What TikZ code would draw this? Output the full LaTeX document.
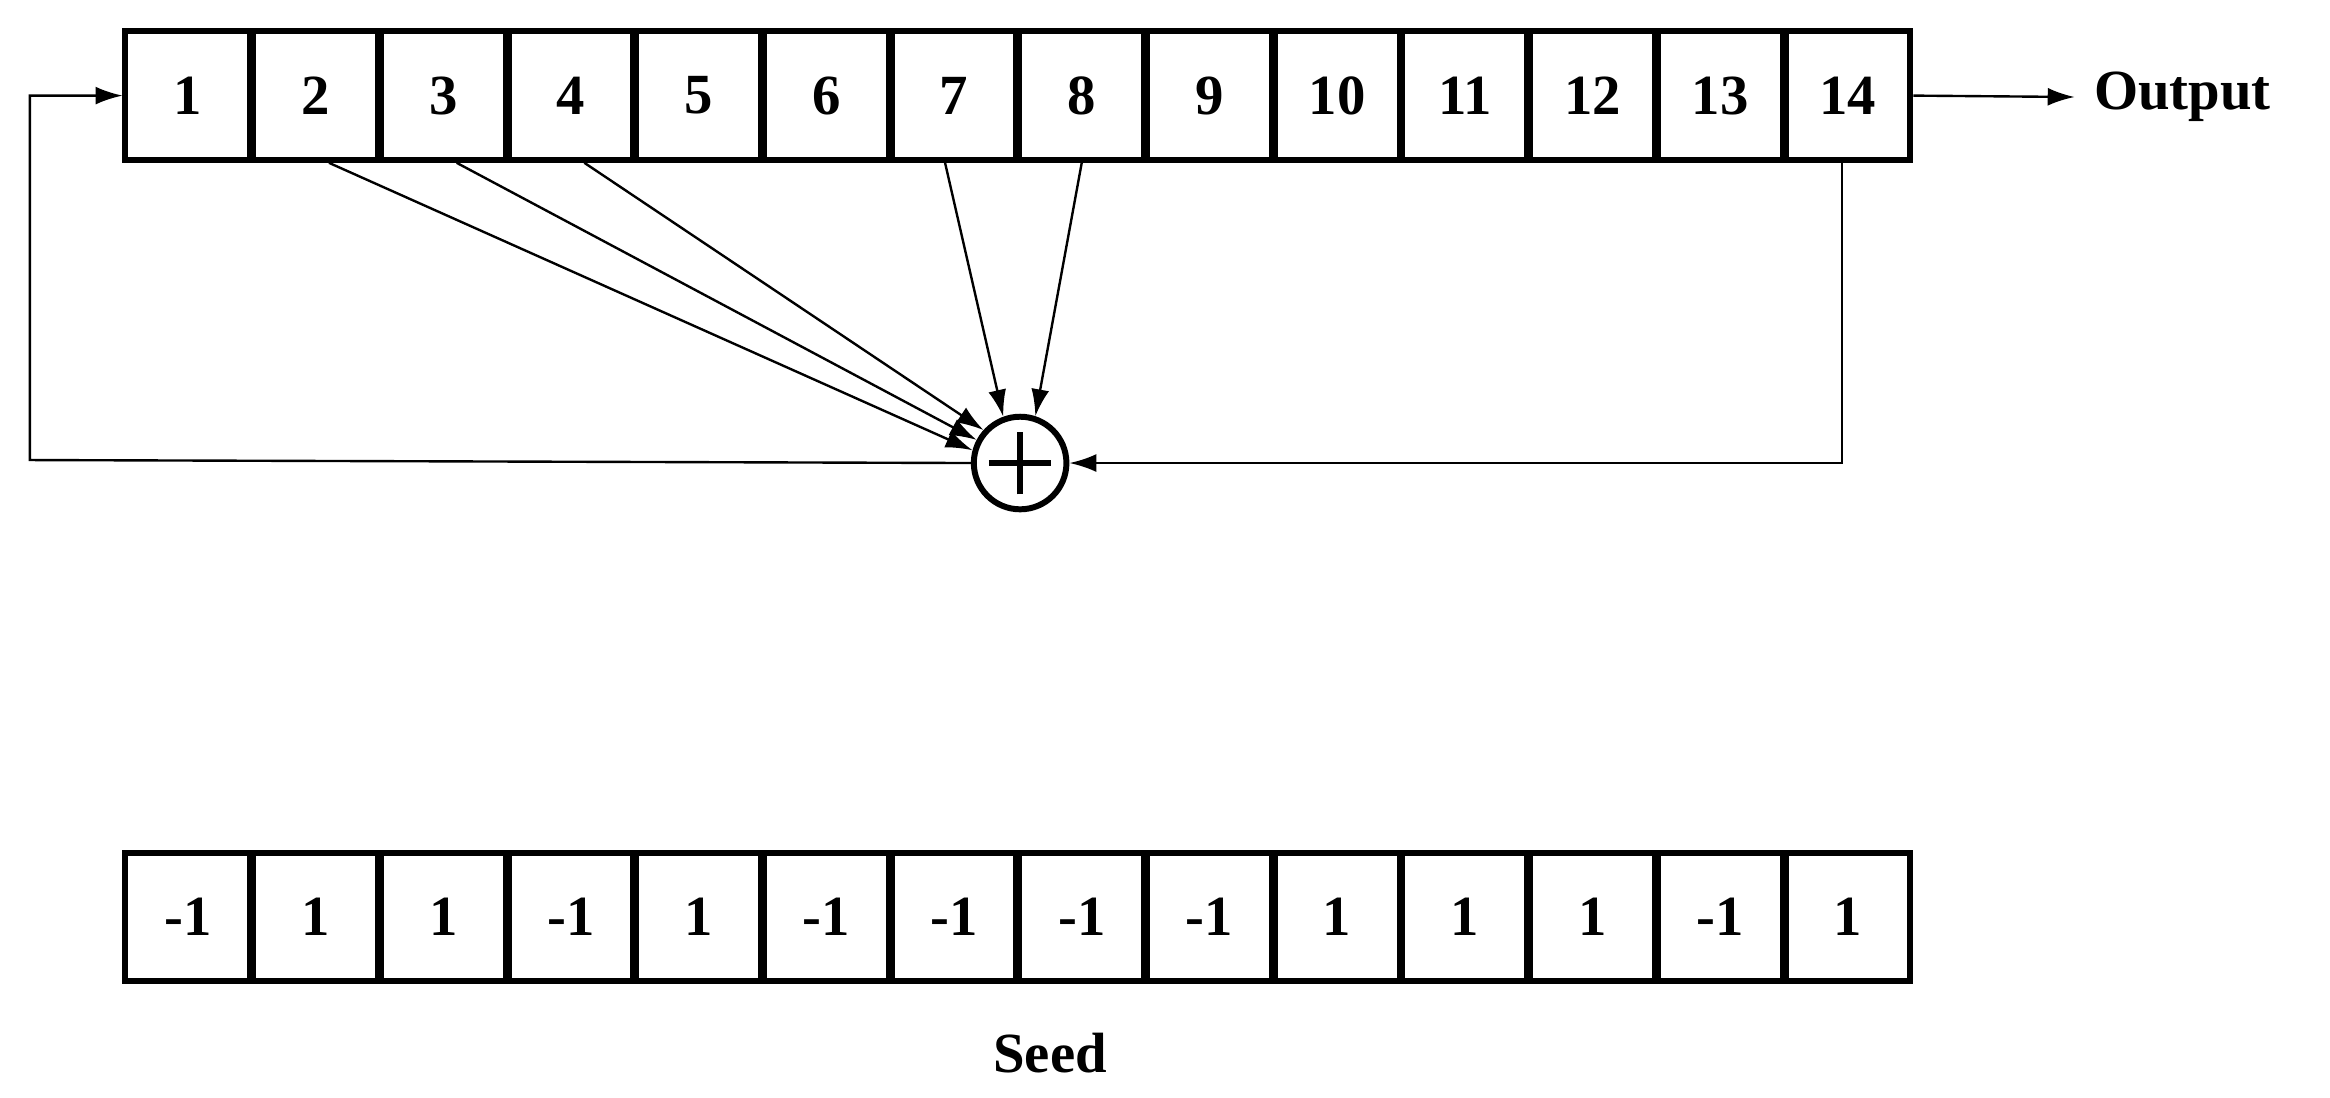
\documentclass[tikz,border=0pt]{standalone}
\usepackage{fontspec}
\setmainfont{Liberation Serif}
\usetikzlibrary{arrows.meta,calc}
\begin{document}
\begin{tikzpicture}[x=0.5pt,y=0.5pt,
 cell/.style={draw,line width=2pt,minimum width=41.75pt,minimum height=43pt,inner sep=0pt,font=\fontsize{19}{20}\selectfont\bfseries},
 conn/.style={line width=0.8pt,-{Latex[length=9pt,width=6pt]}},
 lbl/.style={font=\fontsize{19}{20}\selectfont\bfseries}]
\useasboundingbox (0,0) rectangle (1560,-735);
\foreach \i in {1,...,14}{
  \node[cell] (c\i) at ({83+85.5*(\i-0.5)},-64) {\i};
}
\foreach \v [count=\i] in {-1,1,1,-1,1,-1,-1,-1,-1,1,1,1,-1,1}{
  \node[cell] (s\i) at ({83+85.5*(\i-0.5)},-614) {\v};
}
\node[lbl] (seed) at (703,-705) {Seed};
\node[lbl,anchor=west] (out) at (1395,-65) {Output};
\node[draw,circle,line width=2pt,minimum size=31pt,inner sep=0pt] (add) at (683,-310) {};
\draw[line width=2.2pt] ($(add.center)+(-21,0)$) -- ($(add.center)+(21,0)$) ($(add.center)+(0,-21)$) -- ($(add.center)+(0,21)$);
\draw[conn,shorten >=3pt] (c14.east) -- (out.west);
\draw[conn] ($(c2.south)+(9,0)$) -- (add.165);
\draw[conn] ($(c3.south)+(9,0)$) -- (add.152);
\draw[conn] ($(c4.south)+(9,0)$) -- (add.138);
\draw[conn] ($(c7.south)+(-6,0)$) -- (add.110);
\draw[conn] ($(c8.south)+(0,0)$) -- (add.72);
\draw[conn] ($(c14.south)+(-4,0)$) |- (add.east);
\coordinate (l1) at (20,-308);
\coordinate (l2) at (20,-64);
\draw[conn] (add.west) -- (l1) -- (l2) -- (c1.west);
\end{tikzpicture}
\end{document}
